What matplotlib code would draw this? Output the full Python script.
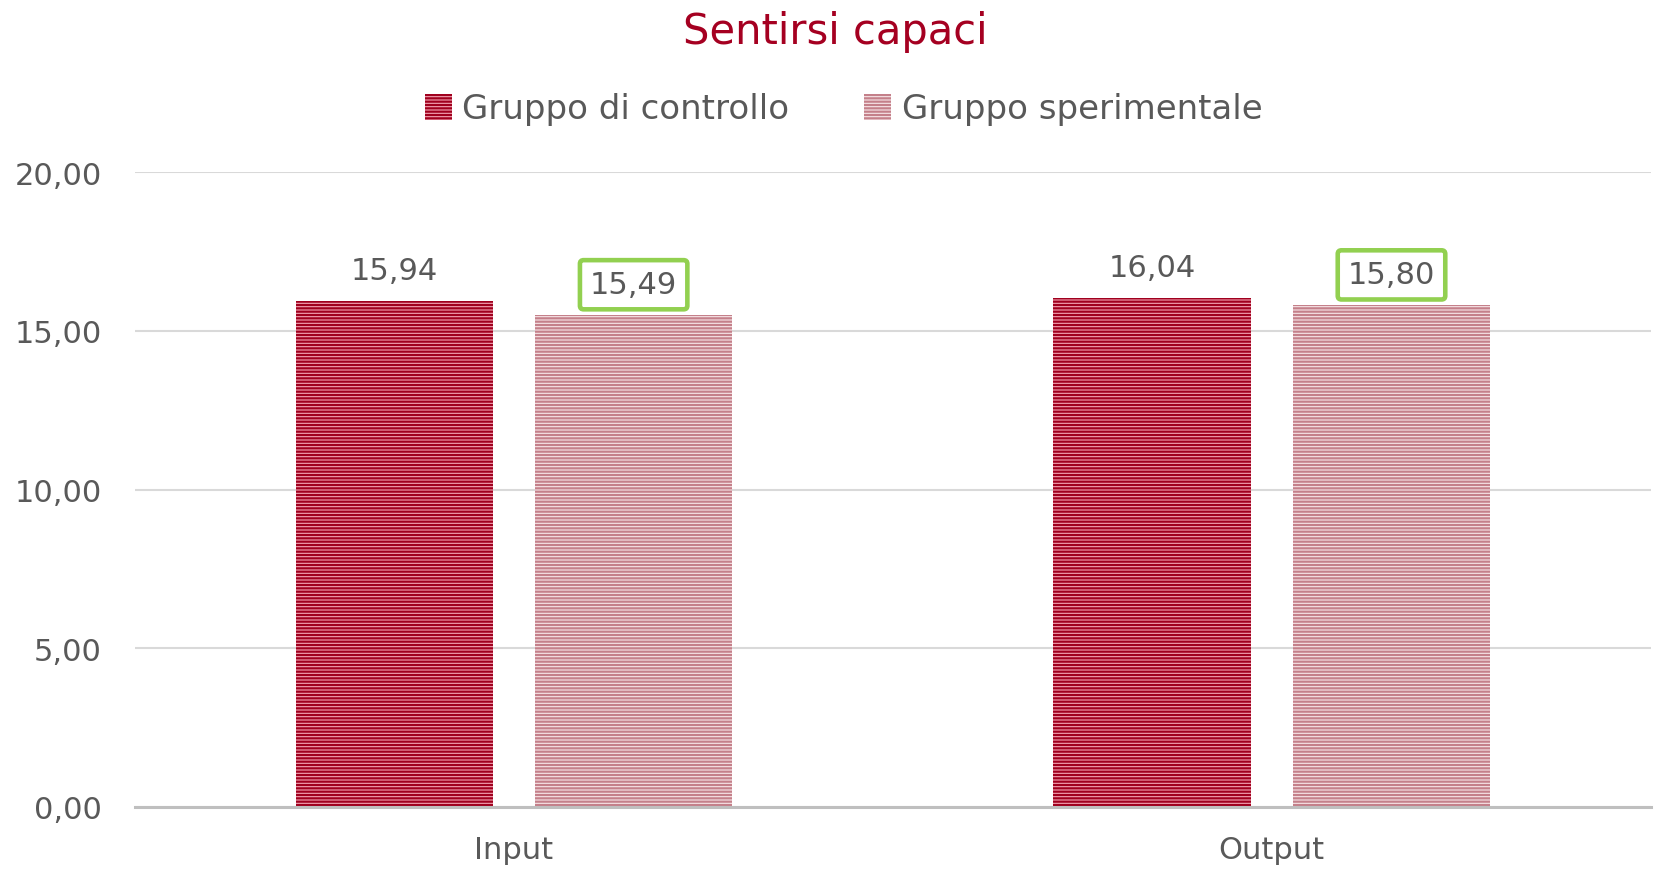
#!/usr/bin/env python3
"""Bar chart: Sentirsi capaci, input vs output."""

import matplotlib
matplotlib.use("Agg")
import matplotlib.pyplot as plt
import numpy as np
from matplotlib.patches import Patch

CATEGORIES = ["Input", "Output"]
CONTROLLO = [15.94, 16.04]
SPERIMENTALE = [15.49, 15.80]
SERIES_NAMES = ["Gruppo di controllo", "Gruppo sperimentale"]
Y_TICKS = [0, 5, 10, 15, 20]

TEXT = "#595959"
TITLE_RED = "#A50021"
GREEN = "#92D050"


def fmt(v):
    return f"{v:.2f}".replace(".", ",")


def main():
    plt.rcParams["font.family"] = ["DejaVu Sans"]
    plt.rcParams["hatch.linewidth"] = 1.6

    fig = plt.figure(figsize=(16.54, 8.70), dpi=100)
    ax = fig.add_axes([0.0816, 0.0713, 0.9164, 0.7297])

    x = np.arange(len(CATEGORIES))
    w = 0.26
    off = 0.158
    b1 = ax.bar(x - off, CONTROLLO, w, color="#F4A3B3", edgecolor="#A0001E",
                hatch="-----", linewidth=0, zorder=3)
    b2 = ax.bar(x + off, SPERIMENTALE, w, color="#F7E6E8", edgecolor="#C4808A",
                hatch="-----", linewidth=0, zorder=3)

    for rect, v in zip(b1, CONTROLLO):
        ax.annotate(fmt(v), (rect.get_x() + rect.get_width() / 2, v),
                    xytext=(0, 22), textcoords="offset points",
                    ha="center", va="center", fontsize=22, color=TEXT)
    for rect, v in zip(b2, SPERIMENTALE):
        ax.annotate(fmt(v), (rect.get_x() + rect.get_width() / 2, v),
                    xytext=(0, 22), textcoords="offset points",
                    ha="center", va="center", fontsize=22, color=TEXT,
                    bbox=dict(boxstyle="round,pad=0.33,rounding_size=0.12",
                              fc="white", ec=GREEN, lw=3.3))

    ax.set_xlim(-0.5, 1.5)
    ax.set_ylim(0, 20)
    ax.set_yticks(Y_TICKS)
    ax.set_yticklabels([fmt(v) for v in Y_TICKS])
    ax.set_xticks(x)
    ax.set_xticklabels(CATEGORIES)
    ax.tick_params(axis="y", length=0, pad=24, labelsize=22, labelcolor=TEXT)
    ax.tick_params(axis="x", length=0, pad=20, labelsize=22, labelcolor=TEXT)
    ax.yaxis.grid(True, color="#D9D9D9", linewidth=1.5, zorder=0)
    ax.set_axisbelow(True)
    for s in ["top", "right", "left"]:
        ax.spines[s].set_visible(False)
    ax.spines["bottom"].set_color("#BFBFBF")
    ax.spines["bottom"].set_linewidth(2.2)
    ax.spines["bottom"].set_zorder(4)

    fig.text(0.505, 1 - 32 / 870, "Sentirsi capaci", ha="center", va="center",
             fontsize=30, color=TITLE_RED)

    handles = [
        Patch(facecolor="#F4A3B3", edgecolor="#A0001E", hatch="-----", linewidth=0),
        Patch(facecolor="#F7E6E8", edgecolor="#C4808A", hatch="-----", linewidth=0),
    ]
    fig.legend(handles, SERIES_NAMES, loc="center", ncol=2,
               bbox_to_anchor=(0.51, 1 - 110 / 870), frameon=False,
               fontsize=24.5, labelcolor=TEXT, handlelength=0.8, handleheight=0.8,
               handletextpad=0.3, columnspacing=2.2)

    fig.savefig("out.png", dpi=100)
    plt.close(fig)


if __name__ == "__main__":
    main()
